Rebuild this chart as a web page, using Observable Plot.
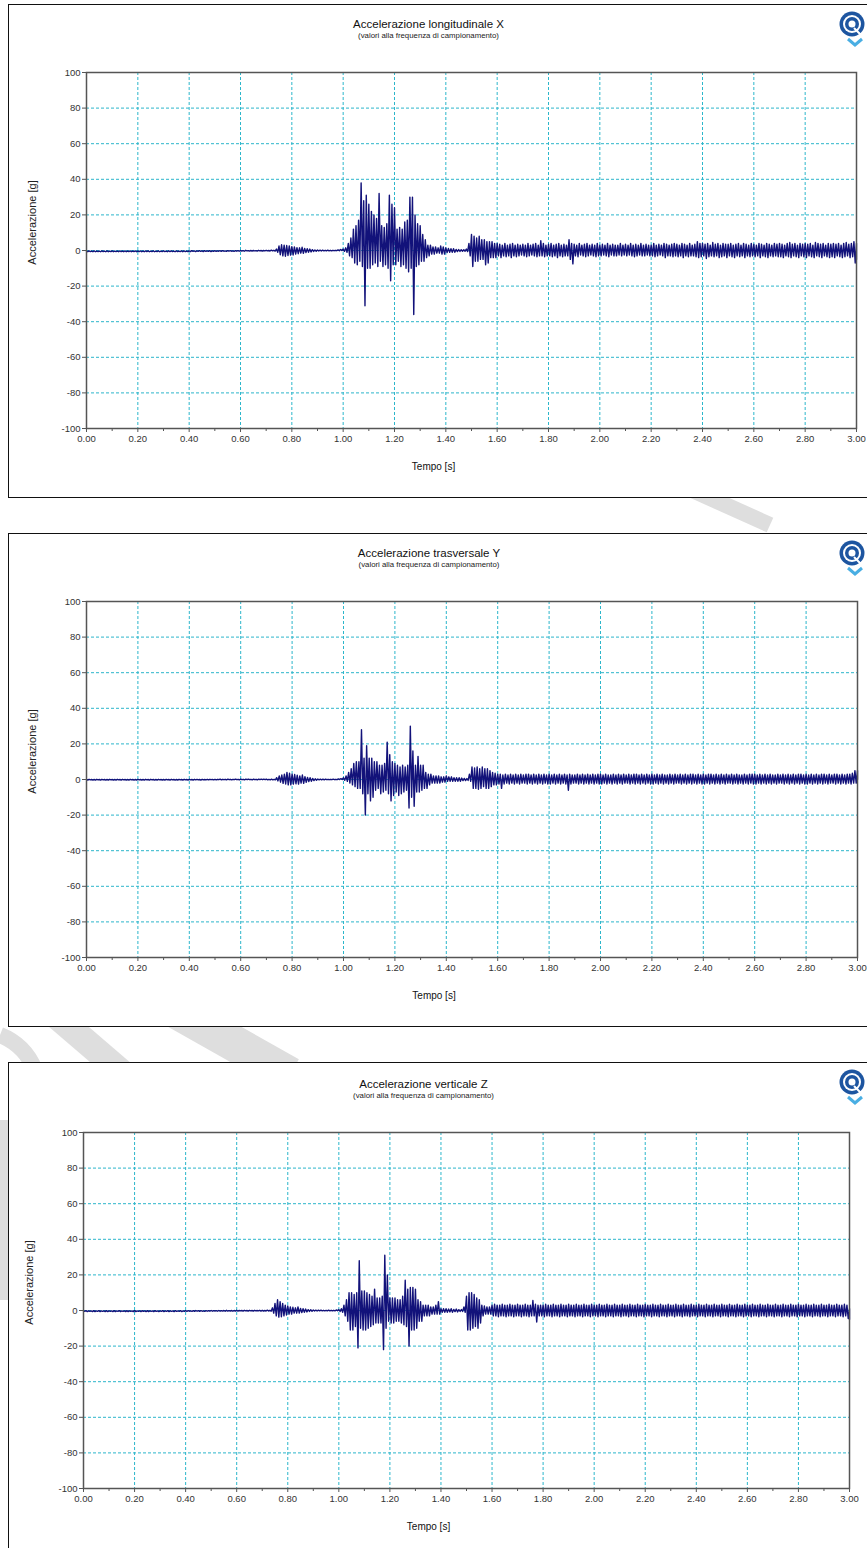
<!DOCTYPE html>
<html><head><meta charset="utf-8">
<script src="https://cdn.jsdelivr.net/npm/d3@7"></script>
<script src="https://cdn.jsdelivr.net/npm/@observablehq/plot@0.6"></script>
<style>
html,body{margin:0;padding:0;background:#fff;}
body{width:867px;height:1548px;overflow:hidden;position:relative;font-family:"Liberation Sans",Arial,sans-serif;}
.panel{position:absolute;left:8px;width:900px;border:1.5px solid #111;background:#fff;box-sizing:border-box;}
.abs{position:absolute;left:0;}
</style></head><body>
<svg class="abs" style="top:0" width="867" height="1548">
  <g stroke="#dedede" stroke-linecap="butt" fill="none">
    <line x1="670" y1="480" x2="770" y2="525" stroke-width="16"/>
    <line x1="55" y1="1015" x2="125" y2="1075" stroke-width="26"/>
    <line x1="175" y1="1010" x2="290" y2="1075" stroke-width="36"/>
    <path d="M0,1035 Q25,1045 35,1070" stroke-width="16"/>
    <line x1="3" y1="1120" x2="3" y2="1300" stroke-width="10"/>
  </g>
</svg>
<div class="panel" style="top:4px;height:494px"></div>
<div class="panel" style="top:533px;height:494px"></div>
<div class="panel" style="top:1062px;height:520px"></div>
<div id="charts"></div>
<svg id="logos" class="abs" style="top:0" width="867" height="1548"></svg>
<script>
// ---- data ----
// Each series is given as the upper (hi) and lower (lo) extreme of the trace
// inside consecutive 0.01 s windows starting at 0.00 s.
const sampleStep = 0.01;
const xTickValues = [0,0.2,0.4,0.6,0.8,1.0,1.2,1.4,1.6,1.8,2.0,2.2,2.4,2.6,2.8,3.0];
const xMinorTickValues = [0.1,0.3,0.5,0.7,0.9,1.1,1.3,1.5,1.7,1.9,2.1,2.3,2.5,2.7,2.9];
const yTickValues = [-100,-80,-60,-40,-20,0,20,40,60,80,100];
const titles = ["Accelerazione longitudinale X","Accelerazione trasversale Y","Accelerazione verticale Z"];
const subtitle = "(valori alla frequenza di campionamento)";
const xLabel = "Tempo [s]";
const yLabel = "Accelerazione [g]";

const accXHi = [
-0.3,-0.2,-0.3,-0.2,-0.3,-0.3,-0.2,-0.3,-0.2,-0.3,
-0.2,-0.3,-0.3,-0.2,-0.3,-0.2,-0.3,-0.2,-0.3,-0.2,
-0.3,-0.2,-0.3,-0.2,-0.2,-0.3,-0.2,-0.3,-0.2,-0.3,
-0.2,-0.3,-0.2,-0.2,-0.3,-0.2,-0.3,-0.2,-0.2,-0.3,
-0.2,-0.1,-0.2,-0.2,-0.1,-0.2,-0.1,-0.2,-0.1,-0.2,
-0.1,-0.2,-0.1,-0.1,-0.2,-0.1,-0.1,-0.2,-0.1,-0.1,
0.0,-0.1,0.1,-0.1,0.0,0.0,-0.1,0.1,0.0,0.0,
0.1,0.0,0.2,0.1,0.8,2.5,3.2,3.0,2.8,2.6,
2.2,2.0,1.6,1.5,1.8,1.2,1.0,0.8,0.5,0.3,
0.3,0.2,0.2,0.1,0.2,0.1,0.1,0.1,0.3,0.6,
0.8,1.5,4,7,12,14,17,38,28,31,
26,22,20,18,32,14,13,15,31,26,
24,12,13,12,16,17,30,30,20,15,
14,9,6,3,3,2,2,1.5,2.5,2,
1.5,1.2,1,1,0.6,0.5,0.4,0.4,0.8,4,
9,8,7,8,6,6,5,5,5,4,
4,3.5,3,4,3,3.5,4,3,3.5,3,
3.5,3,4,3,3.5,4,3,5.5,4,3,
3.5,4,3,3.5,4,3,3.5,3,6,4,
3.5,3,4,3,3.5,4,3,3.5,3,4,
3,3.5,3,4,3,3.5,3,3,4,3,
3.5,3,4,3,3.5,3,4,3,3.5,3,
3,4,3,3.5,3,4,3.5,3,3.5,4,
3.5,3,4,3.5,3,4,3,3.5,5,4,
4,3.5,4,3,4.5,3.5,4,3,4,3.5,
3.5,4,3,3.5,4,3,4,3.5,3,4,
3.5,3,4,3.5,3,4,3.5,3,4,3.5,
4,3.5,3,4,4.5,3.5,4,3,4,3.5,
4,3.5,4,3,4.5,4,3.5,4,3,4,
3.5,4,3.5,4,3,4,4.5,3.5,4,5,
4];
const accXLo = [
-0.7,-0.6,-0.7,-0.7,-0.6,-0.7,-0.6,-0.7,-0.7,-0.6,
-0.7,-0.6,-0.7,-0.6,-0.7,-0.7,-0.6,-0.7,-0.6,-0.7,
-0.6,-0.7,-0.7,-0.6,-0.7,-0.6,-0.7,-0.6,-0.7,-0.6,
-0.6,-0.7,-0.6,-0.6,-0.7,-0.6,-0.6,-0.7,-0.6,-0.6,
-0.6,-0.5,-0.6,-0.5,-0.5,-0.6,-0.5,-0.5,-0.6,-0.5,
-0.5,-0.4,-0.5,-0.4,-0.5,-0.4,-0.4,-0.5,-0.4,-0.4,
-0.3,-0.4,-0.2,-0.3,-0.3,-0.2,-0.3,-0.2,-0.3,-0.2,
-0.2,-0.3,-0.2,-0.3,-1.0,-2.4,-3.0,-3.2,-2.8,-2.6,
-2.5,-2.0,-1.8,-1.5,-1.6,-1.2,-1.0,-0.8,-0.5,-0.4,
-0.3,-0.3,-0.2,-0.2,-0.2,-0.2,-0.1,-0.1,-0.1,0.0,
-0.5,-1,-3,-4,-7,-8,-6,-9,-31,-10,
-10,-8,-7,-9,-6,-9,-8,-10,-17,-8,
-8,-6,-9,-8,-10,-12,-10,-36,-9,-8,
-6,-6,-4,-3,-2,-2,-1.5,-1.5,-2,-2,
-1.2,-1,-1,-1,-0.6,-0.5,-0.4,-0.4,-0.6,-3,
-9,-6,-6,-5,-5,-8,-7,-4,-4,-4,
-3,-4,-3,-3.5,-3,-4,-3,-3.5,-3,-2.5,
-3,-3.5,-3,-2.5,-3,-3.5,-3,-3,-3.5,-3,
-3,-3.5,-3,-4,-3,-3.5,-3,-3,-5,-7.5,
-3,-3.5,-2.5,-3,-3.5,-3,-2.5,-3,-3.5,-3,
-3,-2.5,-3,-3.5,-2.5,-3,-3,-2.5,-3,-2.5,
-3,-2.5,-3,-3.5,-3,-2.5,-3,-3,-2.5,-3,
-3,-3.5,-3,-2.5,-3,-4,-3,-3,-3.5,-3,
-3.5,-3,-4,-3,-3.5,-3,-3,-3.5,-4,-3.5,
-3,-4.5,-3.5,-3,-3.5,-3,-4,-3.5,-3,-4,
-3,-3.5,-4,-3,-3.5,-3,-4,-3,-3.5,-3,
-3.5,-3,-4,-3,-3.5,-4,-3,-3.5,-3,-3.5,
-3.5,-4,-3,-3.5,-4,-3,-3.5,-4,-3,-3.5,
-4,-3,-3.5,-4,-3,-3.5,-4,-3,-3.5,-4,
-3.5,-4,-3,-3.5,-4,-3.5,-3,-4,-3.5,-7,
-5];

const accYHi = [
0.0,0.1,0.0,0.0,0.1,0.0,0.1,0.0,0.0,0.1,
0.0,0.0,0.1,0.0,0.1,0.0,0.0,0.1,0.0,0.0,
0.1,0.0,0.0,0.1,0.0,0.1,0.0,0.0,0.1,0.0,
0.0,0.1,0.0,0.1,0.0,0.0,0.1,0.0,0.1,0.0,
0.1,0.0,0.1,0.1,0.0,0.1,0.0,0.1,0.1,0.0,
0.1,0.1,0.2,0.1,0.1,0.2,0.1,0.1,0.2,0.1,
0.2,0.1,0.2,0.2,0.1,0.2,0.1,0.2,0.2,0.2,
0.2,0.1,0.2,0.1,1.0,2.0,2.5,3.0,4.0,3.5,
3.0,2.8,2.4,2.0,2.5,1.6,1.2,1.0,0.6,0.4,
0.3,0.2,0.2,0.2,0.1,0.1,0.2,0.1,0.3,0.5,
1.0,2,4,6,9,10,10,28,12,19,
12,12,10,10,8,8,9,21,14,10,
9,8,7,8,7,8,30,16,8,13,
8,8,4,3,3,2,2,2,1.5,1.5,
2,1.5,1.5,1,1,1,0.8,0.6,0.5,3,
7,6.5,7,6,7,6,6,5,4,3.5,
3,3,2.5,3,2.5,3,2.5,3,2.5,3,
2.5,3,3,2.5,3,2.5,3,2.5,3,2.5,
3,2.5,3,2.5,3,2.5,3,2.5,3,2.5,
2.5,3,2.5,3,2.5,3,2.5,3,2.5,3,
3,2.5,3,2.5,2.5,3,2.5,3,2.5,3,
2.5,3,2.5,3,3,2.5,3,2.5,3,2.5,
3,2.5,3,2.5,3,2.5,2.5,3,2.5,3,
2.5,3,2.5,3,2.5,3,3,2.5,3,2.5,
3,2.5,3,3,2.5,3,2.5,3,2.5,3,
2.5,3,2.5,3,2.5,2.5,3,2.5,3,3,
3,2.5,3,2.5,3,2.5,3,2.5,2.5,3,
2.5,3,2.5,3,2.5,3,2.5,3,3,2.5,
3,2.5,3,2.5,3,2.5,3,3,2.5,3,
2.5,3,3,2.5,3,2.5,3,3,3.5,5,
5];
const accYLo = [
-0.3,-0.2,-0.3,-0.3,-0.2,-0.3,-0.2,-0.3,-0.3,-0.2,
-0.3,-0.3,-0.2,-0.3,-0.2,-0.3,-0.3,-0.2,-0.3,-0.3,
-0.2,-0.3,-0.3,-0.2,-0.3,-0.2,-0.3,-0.3,-0.2,-0.3,
-0.3,-0.2,-0.3,-0.2,-0.3,-0.3,-0.2,-0.3,-0.2,-0.3,
-0.2,-0.3,-0.2,-0.2,-0.3,-0.2,-0.2,-0.2,-0.1,-0.2,
-0.2,-0.1,-0.2,-0.1,-0.2,-0.1,-0.2,-0.1,-0.1,-0.2,
-0.1,-0.2,-0.1,-0.1,-0.2,-0.1,-0.2,-0.1,-0.1,-0.1,
-0.2,-0.2,-0.2,-0.2,-0.8,-1.5,-2.2,-2.5,-3.0,-3.0,
-2.6,-2.4,-2.6,-2.0,-2.2,-1.6,-1.2,-1.0,-0.6,-0.4,
-0.2,-0.2,-0.2,-0.1,-0.1,-0.1,-0.1,-0.1,0.0,0.0,
-0.5,-1,-2,-3,-4,-5,-5,-8,-20,-8,
-12,-10,-6,-5,-8,-7,-6,-8,-12,-9,
-7,-9,-8,-7,-6,-16,-10,-15,-7,-7,
-6,-5,-5,-3,-2,-2,-2,-2,-1.5,-1.5,
-1,-1,-1,-1,-1,-1,-0.6,-0.6,-0.5,-1,
-5,-5,-5.5,-5,-4,-5,-5,-4,-3,-3,
-2.5,-5,-2.5,-2,-2.5,-2,-2.5,-2,-2.5,-2,
-2,-2.5,-2,-2.5,-2,-2.5,-2,-2.5,-2,-2.5,
-2.5,-2,-2.5,-2,-2.5,-2,-2.5,-6,-2.5,-2,
-2,-2.5,-2,-2.5,-2,-2.5,-2,-2.5,-2,-2.5,
-2.5,-2,-2.5,-2,-2.5,-2,-2.5,-2,-2.5,-2,
-2,-2.5,-2,-2.5,-2,-2.5,-2,-2.5,-2,-2.5,
-2.5,-2,-2.5,-2,-2.5,-2,-2.5,-2,-2.5,-2,
-2,-2.5,-2,-2.5,-2,-2.5,-2,-2.5,-2,-2.5,
-2.5,-2,-2.5,-2,-2.5,-2,-2.5,-2,-2.5,-2,
-2,-2.5,-2,-2.5,-2,-2.5,-2,-2.5,-2,-2.5,
-2.5,-2,-2.5,-2,-2.5,-2,-2.5,-2,-2.5,-2,
-2,-2.5,-2,-2.5,-2,-2.5,-2,-2.5,-2,-2.5,
-2.5,-2,-2.5,-2,-2.5,-2,-2.5,-2,-2.5,-2,
-2,-2.5,-2,-2.5,-2,-2.5,-2,-2.5,-2,-2,
0];

const accZHi = [
-0.2,-0.1,-0.2,-0.2,-0.1,-0.2,-0.1,-0.2,-0.2,-0.1,
-0.2,-0.2,-0.1,-0.2,-0.1,-0.2,-0.2,-0.1,-0.2,-0.2,
-0.1,-0.2,-0.2,-0.1,-0.2,-0.1,-0.2,-0.2,-0.1,-0.2,
-0.2,-0.1,-0.2,-0.1,-0.2,-0.2,-0.1,-0.2,-0.1,-0.2,
-0.1,-0.1,-0.2,-0.1,0.0,-0.1,-0.1,-0.2,-0.1,-0.1,
0.0,-0.1,-0.1,0.0,-0.1,0.0,0.1,-0.1,0.0,0.0,
0.1,0.0,0.0,0.1,0.0,0.1,0.0,0.1,0.0,0.1,
0.1,0.0,0.2,0.1,1.5,4,6,5,4,3,
2.5,2,1.8,1.5,2,1.2,1,0.8,0.5,0.4,
0.3,0.2,0.2,0.2,0.1,0.1,0.2,0.1,0.1,0.3,
0.5,1,3,6,10,10,9,10,28,11,
11,10,9,8,12,7,7,8,31,20,
7,7,7,6,6,8,17,12,13,13,
12,6,5,3,3,3,2,2,3,5,
1,1,1,0.8,1,0.6,0.8,0.5,0.5,2,
8,10,10,9,7,6,3,2.5,2,2,
3,3.5,3,3,3.5,3,3,3.5,3,3,
3.5,3,3,3.5,3,3,5.6,3.5,3,3,
3,3.5,3,3,3.5,3,3,3.5,3,3,
3.5,3,3,3.5,3,3,3.5,3,3,3.5,
3,3,3.5,3,3,3.5,3,3,3.5,3,
3,3.5,3,3,3.5,3,3,3.5,3,3,
3.5,3,3,3.5,3,3,3.5,3,3,3.5,
3,3,3.5,3,3,3.5,3,3,3.5,3,
3,3.5,3,3,3.5,3,3,3.5,3,3,
3.5,3,3,3.5,3,3,3.5,3,3,3.5,
3,3,3.5,3,3,3.5,3,3,3.5,3,
3,3.5,3,3,3.5,3,3,3.5,3,3,
3.5,3,3,3.5,3,3,3.5,3,3,3.5,
3,3,3.5,3,3,3.5,3,3,3.5,3,
1];
const accZLo = [
-0.5,-0.6,-0.5,-0.6,-0.6,-0.5,-0.6,-0.5,-0.6,-0.6,
-0.5,-0.6,-0.6,-0.5,-0.6,-0.5,-0.6,-0.6,-0.5,-0.6,
-0.6,-0.5,-0.6,-0.5,-0.6,-0.6,-0.5,-0.6,-0.5,-0.6,
-0.5,-0.6,-0.5,-0.6,-0.5,-0.6,-0.5,-0.5,-0.6,-0.5,
-0.5,-0.4,-0.5,-0.5,-0.4,-0.5,-0.4,-0.5,-0.4,-0.4,
-0.4,-0.3,-0.4,-0.4,-0.3,-0.4,-0.3,-0.3,-0.4,-0.3,
-0.3,-0.2,-0.3,-0.2,-0.3,-0.2,-0.3,-0.2,-0.2,-0.3,
-0.3,-0.3,-0.3,-0.4,-1.5,-3,-3.7,-3.5,-3,-2.5,
-2,-2,-1.5,-1.5,-1.5,-1.2,-1,-0.8,-0.5,-0.4,
-0.3,-0.3,-0.2,-0.2,-0.2,-0.2,-0.2,-0.2,-0.2,-0.1,
-0.5,-1,-3,-6,-11,-11,-9,-21,-10,-11,
-11,-10,-9,-8,-7,-7,-7,-22,-10,-6,
-7,-7,-6,-6,-7,-8,-9,-20,-11,-11,
-10,-6,-6,-3,-3,-3,-2,-2,-2,-2,
-1,-1,-1,-0.8,-1,-0.6,-0.8,-0.5,-0.5,-1,
-11,-11,-10,-9,-10,-7,-3,-2,-2,-2,
-3,-3,-3.5,-3,-3,-3.5,-3,-3,-3.5,-3,
-3,-3.5,-3,-3,-3.5,-3,-3,-6.5,-3,-3,
-3.5,-3,-3,-3.5,-3,-3,-3.5,-3,-3,-3.5,
-3,-3,-3.5,-3,-3,-3.5,-3,-3,-3.5,-3,
-3,-3.5,-3,-3,-3.5,-3,-3,-3.5,-3,-3,
-3.5,-3,-3,-3.5,-3,-3,-3.5,-3,-3,-3.5,
-3,-3,-3.5,-3,-3,-3.5,-3,-3,-3.5,-3,
-3,-3.5,-3,-3,-3.5,-3,-3,-3.5,-3,-3,
-3.5,-3,-3,-3.5,-3,-3,-3.5,-3,-3,-3.5,
-3,-3,-3.5,-3,-3,-3.5,-3,-3,-3.5,-3,
-3,-3.5,-3,-3,-3.5,-3,-3,-3.5,-3,-3,
-3.5,-3,-3,-3.5,-3,-3,-3.5,-3,-3,-3.5,
-3,-3,-3.5,-3,-3,-3.5,-3,-3,-3.5,-3,
-3,-3.5,-3,-3,-3.5,-3,-3,-3.5,-3,-4.5,
-5];

const seriesHi = [accXHi, accYHi, accZHi];
const seriesLo = [accXLo, accYLo, accZLo];

// ---- layout ----
const panels = [
  {top: 5, ml: 86, mr: 11, mt: 67},
  {top: 534, ml: 86, mr: 10, mt: 67},
  {top: 1063, ml: 83, mr: 18, mt: 69}
];
const plotH = 356, svgH = 492;
const font = "'Liberation Sans', Arial, sans-serif";
const gridStyle = {stroke: "#2cb6cb", strokeOpacity: 1, strokeWidth: 1, strokeDasharray: "3,2"};

const root = document.getElementById("charts");
panels.forEach((p, k) => {
  const hi = seriesHi[k], lo = seriesLo[k];
  const data = [];
  hi.forEach((h, i) => {
    const t = i * sampleStep;
    data.push({t, a: h});
    data.push({t: Math.min(t + sampleStep / 2, 3), a: lo[i]});
  });
  const chart = Plot.plot({
    width: 867, height: svgH,
    marginLeft: p.ml, marginRight: p.mr, marginTop: p.mt, marginBottom: svgH - p.mt - plotH,
    style: {background: "transparent", fontFamily: font, fontSize: "9.5px", color: "#333", overflow: "visible"},
    x: {domain: [0, 3]},
    y: {domain: [-100, 100]},
    marks: [
      Plot.gridX(xTickValues.slice(1, -1), gridStyle),
      Plot.gridY(yTickValues.slice(1, -1), gridStyle),
      Plot.line(data, {x: "t", y: "a", stroke: "#12127a", strokeWidth: 1.4}),
      Plot.frame({stroke: "#555", strokeWidth: 1.5}),
      Plot.axisY(yTickValues, {tickSize: 4, tickPadding: 2, label: null, tickFormat: d => String(d), stroke: "#555", fill: "#333"}),
      Plot.axisX(xTickValues, {tickSize: 4, tickPadding: 3, label: null, tickFormat: d => d.toFixed(2), stroke: "#555", fill: "#333"}),
      Plot.axisX(xMinorTickValues, {tickSize: 3, label: null, tickFormat: () => "", stroke: "#555"}),
      Plot.text([titles[k]], {frameAnchor: "top", textAnchor: "middle", lineAnchor: "middle", dx: -43, dy: -48, fontSize: 11.5, fill: "#111"}),
      Plot.text([subtitle], {frameAnchor: "top", textAnchor: "middle", lineAnchor: "middle", dx: -43, dy: -37, fontSize: 7.8, fill: "#222"}),
      Plot.text([xLabel], {frameAnchor: "bottom", textAnchor: "middle", lineAnchor: "middle", dx: -38, dy: 38, fontSize: 10, fill: "#111"}),
      Plot.text([yLabel], {frameAnchor: "left", textAnchor: "middle", lineAnchor: "middle", dx: -54, dy: -28, rotate: -90, fontSize: 11, fill: "#222"})
    ]
  });
  chart.style.position = "absolute";
  chart.style.top = p.top + "px";
  chart.style.left = "0px";
  root.appendChild(chart);
});

// decorative logo in the top-right corner of each panel
const logos = d3.select("#logos");
panels.forEach(p => {
  const g = logos.append("g").attr("transform", `translate(852,${p.top + 19})`);
  g.append("circle").attr("r", 12.5).attr("fill", "#1d55a0");
  g.append("circle").attr("r", 9).attr("fill", "#fff");
  g.append("circle").attr("r", 7).attr("fill", "#1d55a0");
  g.append("circle").attr("r", 3.5).attr("fill", "#fff");
  g.append("path").attr("d", "M2,4 L9,11 L13,7").attr("stroke", "#fff").attr("stroke-width", 2).attr("fill", "none");
  g.append("path").attr("d", "M-4,15 L3,21 L10,15").attr("stroke", "#49aee3").attr("stroke-width", 3).attr("fill", "none");
});
</script>
</body></html>
